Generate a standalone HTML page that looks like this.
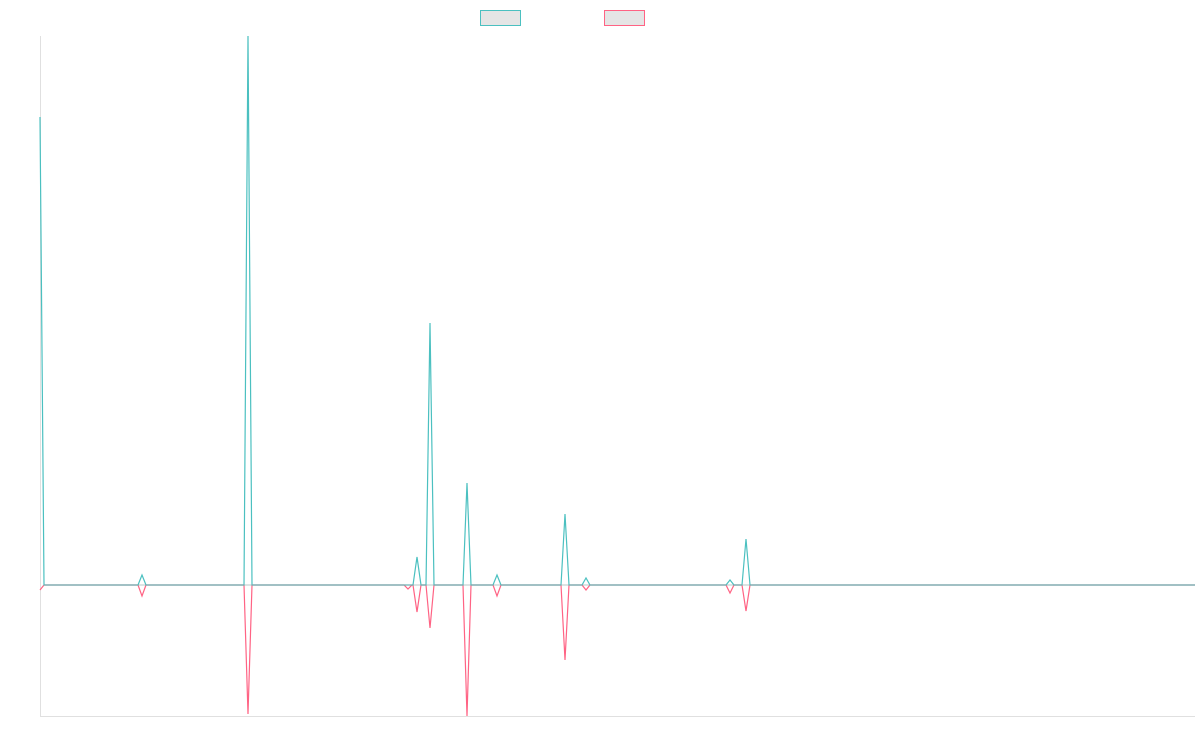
<!DOCTYPE html>
<html><head><meta charset="utf-8"><style>html,body{margin:0;padding:0;background:#fff}</style></head>
<body>
<svg width="1200" height="750" viewBox="0 0 1200 750" xmlns="http://www.w3.org/2000/svg">
<rect x="480.5" y="10.5" width="40" height="15" fill="#e5e5e5" stroke="#4bc0c0" stroke-width="1"/>
<rect x="604.5" y="10.5" width="40" height="15" fill="#e5e5e5" stroke="#ff6384" stroke-width="1"/>
<line x1="40.5" y1="36" x2="40.5" y2="716" stroke="#e0e0e0" stroke-width="1"/>
<line x1="40" y1="716.5" x2="1195" y2="716.5" stroke="#e0e0e0" stroke-width="1"/>
<polyline fill="none" stroke="#ff6384" stroke-width="1.2" points="40,590 44,585 138,585 142,596 146,585 244,585 248,714 252,585 404,585 408,589 412,585 413,585 417,612 421,585 426,585 430,628 434,585 463,585 467,716 471,585 493,585 497,596 501,585 561,585 565,660 569,585 582,585 586,590 590,585 726,585 730,593 734,585 742,585 746,611 750,585 1195,585"/>
<polyline fill="none" stroke="#4bc0c0" stroke-width="1.2" points="40,117 44,585 138,585 142,575 146,585 244,585 248,36 252,585 404,585 408,585 412,585 413,585 417,557 421,585 426,585 430,323 434,585 463,585 467,483 471,585 493,585 497,575 501,585 561,585 565,514 569,585 582,585 586,578 590,585 726,585 730,580 734,585 742,585 746,539 750,585 1195,585"/>
<line x1="44" y1="585" x2="1195" y2="585" stroke="#8aa4a8" stroke-width="1" opacity="0.6"/>
</svg>
</body></html>
